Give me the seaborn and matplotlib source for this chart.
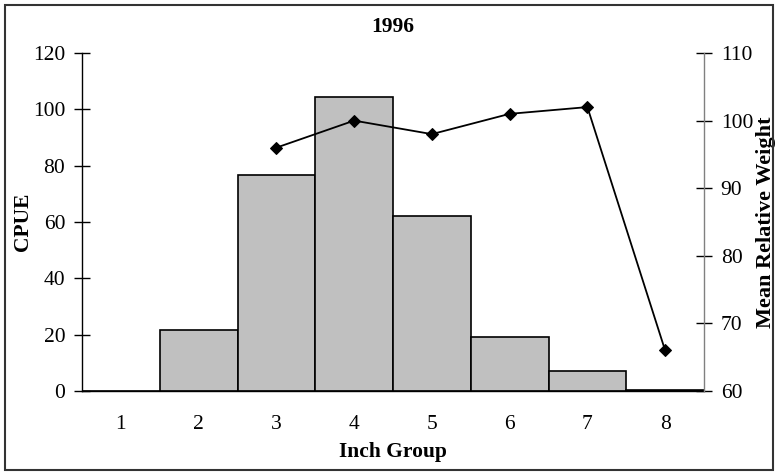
import pandas as pd
import matplotlib.pyplot as plt
import seaborn as sns
from matplotlib.patches import Rectangle
from matplotlib.ticker import FixedLocator

# datos
grupos = ['1', '2', '3', '4', '5', '6', '7', '8']
cpue = [0, 21.5, 76.7, 104.5, 62.1, 19.3, 7.1, 0.5]
grupos_peso = ['3', '4', '5', '6', '7', '8']
peso_relativo = [96, 100, 98, 101, 102, 66]

df = pd.DataFrame({'Grupo': grupos, 'CPUE': cpue})
df_peso = pd.DataFrame({'Grupo': grupos_peso, 'Peso': peso_relativo})
df_peso['pos'] = [grupos.index(g) for g in df_peso['Grupo']]

sns.set_style("white")
plt.rcParams['font.family'] = ['Liberation Serif', 'DejaVu Serif']
plt.rcParams.update({'font.size': 15, 'text.color': 'black', 'axes.labelcolor': 'black',
                     'xtick.color': 'black', 'ytick.color': 'black'})

fig = plt.figure(figsize=(7.78, 4.72), dpi=100)
ax = fig.add_axes([0.1054, 0.1716, 0.7995, 0.7161])

sns.barplot(data=df, x='Grupo', y='CPUE', color='#C0C0C0', edgecolor='black',
            linewidth=1.2, width=1.0, saturation=1, ax=ax)

ax.set_xlim(-0.5, 7.5)
ax.set_ylim(0, 120)
ax.set_yticks(range(0, 121, 20))
ax.set_xlabel('Inch Group', fontweight='bold', fontsize=15.5, labelpad=6)
ax.set_ylabel('CPUE', fontweight='bold', fontsize=15.5, labelpad=0)
ax.set_title('1996', fontweight='bold', fontsize=15.5, pad=15)

ax.tick_params(axis='x', which='major', length=0, pad=17, labelsize=15.5)
ax.xaxis.set_minor_locator(FixedLocator([i - 0.5 for i in range(len(grupos) + 1)]))
ax.tick_params(axis='x', which='minor', length=6, direction='out', width=1, color='black')
ax.tick_params(axis='y', length=12, direction='inout', width=1, color='black', labelsize=15.5, pad=6)

for s in ['top', 'right']:
    ax.spines[s].set_visible(False)
for s in ['left', 'bottom']:
    ax.spines[s].set_color('black')
    ax.spines[s].set_linewidth(1)

ax2 = ax.twinx()
sns.lineplot(data=df_peso, x='pos', y='Peso', color='black', marker='D',
             markersize=6, linewidth=1.3, markeredgecolor='black', ax=ax2)
ax2.set_xlim(-0.5, 7.5)
ax2.set_ylim(60, 110)
ax2.set_yticks(range(60, 111, 10))
ax2.set_ylabel('Mean Relative Weight', fontweight='bold', fontsize=16, labelpad=2)
ax2.tick_params(axis='y', length=12, direction='inout', width=1, color='black', labelsize=15.5, pad=6)
for s in ['top', 'left', 'bottom']:
    ax2.spines[s].set_visible(False)
ax2.spines['right'].set_color('#808080')
ax2.spines['right'].set_linewidth(1)

fig.patches.append(Rectangle((0.006, 0.004), 0.988, 0.986, transform=fig.transFigure,
                             fill=False, edgecolor='#333333', linewidth=1.5))

plt.savefig('out.png', dpi=100)
